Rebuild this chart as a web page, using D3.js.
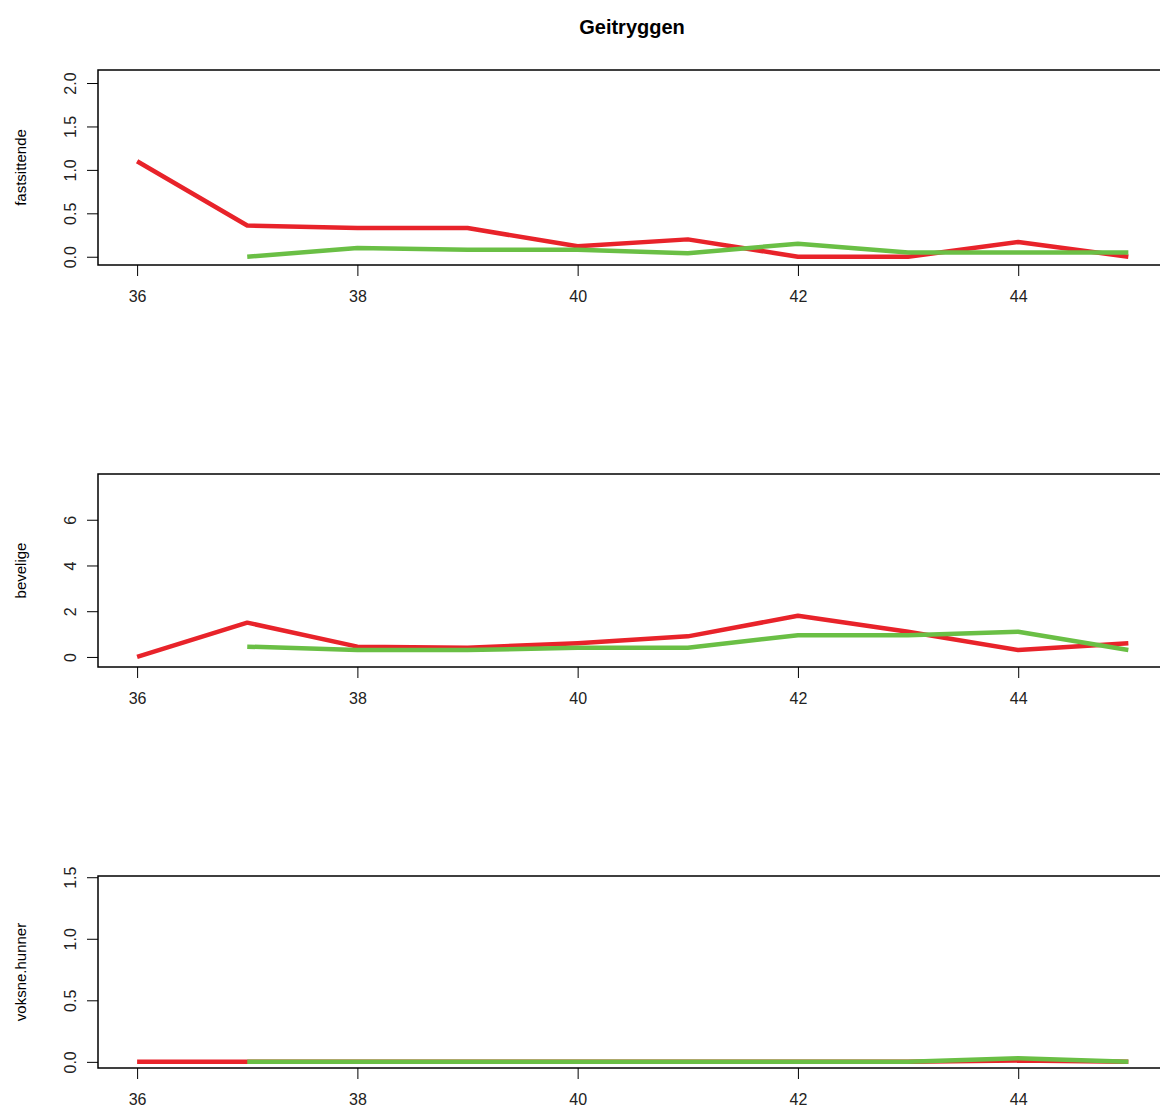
<!DOCTYPE html><html><head><meta charset="utf-8"><script src="https://cdn.jsdelivr.net/npm/d3@7"></script>
<style>body{margin:0;background:#fff}text{font-family:"Liberation Sans",Arial,sans-serif}</style></head><body>
<script>
const years=[36,37,38,39,40,41,42,43,44,45];
const xTicks=[36,38,40,42,44];
const fastRed=[1.1,0.36,0.33,0.33,0.12,0.2,0.0,0.0,0.17,0.0];
const fastGreen=[null,0,0.1,0.08,0.08,0.04,0.15,0.05,0.05,0.05];
const bevRed=[0,1.5,0.45,0.4,0.6,0.9,1.8,1.1,0.3,0.6];
const bevGreen=[null,0.45,0.3,0.3,0.4,0.4,0.95,0.95,1.1,0.3];
const vokRed=[0,0,0,0,0,0,0,0,0.01,0];
const vokGreen=[null,0,0,0,0,0,0,0,0.03,0];
const panels=[
 {label:"fastsittende",red:fastRed,green:fastGreen,ticks:[0,0.5,1,1.5,2],fmt:d3.format(".1f"),top:70,bottom:265,dom:[-0.095,2.15]},
 {label:"bevelige",red:bevRed,green:bevGreen,ticks:[0,2,4,6],fmt:d3.format("d"),top:474,bottom:667,dom:[-0.44,8.0]},
 {label:"voksne.hunner",red:vokRed,green:vokGreen,ticks:[0,0.5,1,1.5],fmt:d3.format(".1f"),top:876,bottom:1068,dom:[-0.05,1.51]}
];
const svg=d3.select("body").append("svg").attr("width",1160).attr("height",1115);
svg.append("text").attr("x",632).attr("y",34).attr("text-anchor","middle").attr("font-weight","bold").attr("font-size",20).text("Geitryggen");
const x=d3.scaleLinear().domain([35.645,45.36]).range([98,1168]);
panels.forEach(p=>{
 const y=d3.scaleLinear().domain(p.dom).range([p.bottom,p.top]);
 const g=svg.append("g");
 g.append("rect").attr("x",98).attr("y",p.top).attr("width",1070).attr("height",p.bottom-p.top).attr("fill","none").attr("stroke","#000").attr("stroke-width",1.5);
 const ax=g.append("g").attr("transform",`translate(0,${p.bottom})`).call(d3.axisBottom(x).tickValues(xTicks).tickSize(11).tickPadding(15));
 ax.select(".domain").remove();ax.selectAll("text").attr("font-size",16).attr("fill","#222");
 const ay=g.append("g").attr("transform","translate(98,0)").call(d3.axisLeft(y).tickValues(p.ticks).tickFormat(p.fmt).tickSize(11));
 ay.select(".domain").remove();
 ay.selectAll("text").attr("font-size",16).attr("fill","#222").attr("text-anchor","middle").attr("x",null).attr("dy",null)
   .attr("transform","translate(-28,0) rotate(-90)").attr("dy","0.35em");
 g.append("text").attr("transform",`translate(26,${(p.top+p.bottom)/2}) rotate(-90)`).attr("text-anchor","middle").attr("font-size",15).text(p.label);
 const clip="c"+p.top;
 svg.append("clipPath").attr("id",clip).append("rect").attr("x",98).attr("y",p.top).attr("width",1070).attr("height",p.bottom-p.top);
 const line=d3.line().defined(d=>d[1]!=null).x(d=>x(d[0])).y(d=>y(d[1]));
 [[p.red,"#e8232a"],[p.green,"#6abf45"]].forEach(([s,c])=>{
  g.append("path").attr("clip-path",`url(#${clip})`).attr("d",line(years.map((v,i)=>[v,s[i]]))).attr("fill","none").attr("stroke",c).attr("stroke-width",4.5).attr("stroke-linejoin","round");
 });
});
</script></body></html>
